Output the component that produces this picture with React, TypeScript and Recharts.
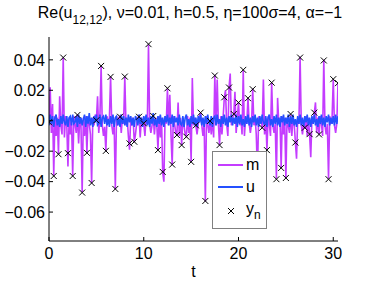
import { ComposedChart, Line, Scatter, XAxis, YAxis, Legend } from 'recharts';

const FONT = '"Liberation Sans", Arial, Helvetica, sans-serif';
const M_COLOR = '#c43cff';
const U_COLOR = '#2450ff';

// sample spacing of the filter output (m) and truth (u), observation spacing h
const STEP = 0.125;
const OBS_STEP = 0.5;

const xTicks = [0, 10, 20, 30];
const yTicks = [-0.06, -0.04, -0.02, 0, 0.02, 0.04];

// observations y_n, one every 0.5 from t=0 to t=30.5
const yN = [
  -0.001, -0.0363, -0.022, 0.0415, -0.0213, -0.0363, 0.0038, -0.0472, -0.0211, -0.0409,
  0.0003, 0.036, -0.0198, 0.0288, -0.0448, 0.0026, 0.029, -0.0149, -0.0138, 0.0026,
  -0.0017, 0.0503, 0.0031, -0.0193, -0.0336, 0.0213, -0.0288, -0.0094, -0.016, -0.0105,
  -0.027, -0.003, 0.0053, -0.0527, -0.0002, 0.0297, -0.016, 0.0154, 0.0218, 0.0044,
  0.0119, 0.0334, 0.0148, 0.0207, -0.035, -0.0046, -0.0193, 0.025, -0.0384, -0.031,
  -0.0376, 0.0044, -0.0143, 0.0415, -0.0046, -0.0088, 0.0053, -0.009, 0.0396, -0.0384,
  0.0273, 0.0247,
];

// m (x1e-3), 4 samples per observation interval
const mMilli = [
  -1, 22, -8, 11,   -36, 3, -10, 2,   -22, 16, -3, -9,   41.5, -11, 3, -2,
  -30, 2, -9, 2,    -36, 3, -2, -8,   4, -15, 2, -3,     -47, 2, -10, 3,
  -21, 3, -2, -9,   -41, 2, -3, 4,    0, 16, -8, 3,      36, -3, -10, -4,
  -20, 3, -2, 2,    29, -3, -9, -2,   -45, 3, -3, 2,     3, -8, 2, -2,
  29, -3, 2, -10,   -19, 2, -3, 2,    -14, -9, -2, 2,    3, -11, 2, -3,
  -2, -10, 3, -2,   50, -3, -8, -3,   3, -9, 2, -2,      -19, 3, -11, 2,
  -34, -40, 3, -2,  21, -3, 17, -9,   -29, 3, -2, -8,    -9, 12, -10, 2,
  -16, 2, -3, -9,   -10, 3, -8, 2,    -27, 28, -3, 2,    -3, -9, -2, 3,
  5, -3, -10, -2,   -53, 3, -2, -8,   0, -9, 2, -11,     30, -3, 27, -2,
  -16, 3, -9, 2,    15, 20, -2, -10,  22, 31, -3, 2,     4, 19, -8, 2,
  12, -3, 2, -9,    33, -10, 2, -2,   15, -2, -8, -2,    21, -3, 2, -9,
  -35, 3, -2, 2,    -5, 27, -9, 2,    -19, 3, -2, -10,   25, -3, -8, -2,
  -38, 15, -2, 2,   -31, 3, -9, 2,    -38, 2, -3, -8,    4, -10, 2, -2,
  -14, -25, 2, -2,  42, -3, -9, -2,   -5, 3, -10, 2,     -9, -24, 2, -2,
  5, 12, -8, 2,     -9, 3, -2, -10,   40, -3, -9, -2,    -38, 3, -2, 2,
  27, -3, -8, -2,   25,
];

// u (x1e-3)
const uMilli = [
  -3, 4, -2, 3, -4, 2, 4, -3, 1, -4, 3, -2, 4, -1, -3, 3,
  -4, 2, 3, -3, 4, -2, -1, 3, -4, 4, -2, 2, -3, 1, 4, -4,
  3, -2, 5, -3, 2, -4, 3, -1, 4, -3, -2, 4, -4, 2, 3, -2,
  4, -3, 1, -4, 3, -2, 4, -4, 2, 3, -3, 1, -4, 4, -2, 3,
  -3, 2, -4, 4, -1, 3, -3, 2, -4, 3, 1, -3, 4, -2, 2, -4,
  3, -1, 4, -3, 2, -4, 3, -2, 5, -3, 1, -4, 3, -2, 4, -3,
  2, -4, 3, -1, 4, -3, 2, -2, 4, -4, 3, -1, 2, -3, 4, -2,
  -3, 3, -4, 2, 4, -3, 1, -4, 3, -2, 4, -3, 2, -4, 3, -1,
  4, -3, 2, -4, 3, -2, 4, -1, -3, 3, -4, 2, 3, -3, 4, -2,
  1, -4, 3, -2, 4, -3, 2, -4, 3, -1, 4, -3, 2, -2, 4, -4,
  3, -2, 4, -3, 1, -4, 3, -2, 4, -3, 2, -4, 3, -1, 4, -3,
  2, -4, 3, -2, 4, -1, -3, 3, -4, 2, 4, -3, 1, -4, 3, -2,
  4, -3, 2, -4, 3, -1, 4, -3, 2, -2, 4, -4, 3, -2, 4, -3,
  1, -4, 3, -2, 4, -3, 2, -4, 3, -1, 4, -3, 2, -4, 3, -2,
  4, -3, 1, -4, 3, -2, 4, -3, 2, -4, 3, -1, 4, -3, 2, -2,
  3, -3, 4, -2, 3,
];

const mRows = mMilli.map((v, i) => ({ t: i * STEP, m: v / 1000 }));
const uRows = uMilli.map((v, i) => ({ t: i * STEP, u: v / 1000 }));
const obsRows = yN.map((v, i) => ({ t: i * OBS_STEP, y: v }));

const fmtY = (v: number) => (v === 0 ? '0' : (v < 0 ? '\u2212' : '') + Math.abs(v).toFixed(2));

const XMark = (props: any) => {
  const { cx, cy } = props;
  if (cx == null || cy == null) return null;
  const s = 3;
  return (
    <path
      d={`M${cx - s},${cy - s}L${cx + s},${cy + s}M${cx - s},${cy + s}L${cx + s},${cy - s}`}
      stroke="#000"
      strokeWidth={1}
      fill="none"
    />
  );
};

const renderLegend = () => (
  <div
    style={{
      width: 53,
      height: 74,
      border: '1px solid #808080',
      background: '#fff',
      fontFamily: FONT,
      fontSize: 16,
      color: '#000',
      paddingTop: 2,
      boxSizing: 'content-box',
    }}
  >
    <div style={{ height: 22, display: 'flex', alignItems: 'center' }}>
      <svg width={33} height={22}>
        <line x1={5} x2={30} y1={11} y2={11} stroke={M_COLOR} strokeWidth={2} />
      </svg>
      <span>m</span>
    </div>
    <div style={{ height: 22, display: 'flex', alignItems: 'center' }}>
      <svg width={33} height={22}>
        <line x1={5} x2={30} y1={11} y2={11} stroke={U_COLOR} strokeWidth={2} />
      </svg>
      <span>u</span>
    </div>
    <div style={{ height: 22, display: 'flex', alignItems: 'center' }}>
      <svg width={33} height={22}>
        <path d="M15,10L21,16M15,16L21,10" stroke="#000" strokeWidth={1} fill="none" />
      </svg>
      <span>
        y<span style={{ fontSize: 12, position: 'relative', top: 5 }}>n</span>
      </span>
    </div>
  </div>
);

export default function App() {
  return (
    <div style={{ position: 'absolute', left: 0, top: 0, width: 374, height: 281, background: '#fff' }}>
      <div
        style={{
          position: 'absolute',
          left: 6,
          top: 5,
          width: 368,
          textAlign: 'center',
          fontFamily: FONT,
          fontSize: 16,
          lineHeight: '16px',
          whiteSpace: 'nowrap',
          color: '#000',
        }}
      >
        Re(u<span style={{ fontSize: 12, position: 'relative', top: 6 }}>12,12</span>), ν=0.01, h=0.5, η=100σ=4, α=−1
      </div>
      <ComposedChart
        width={374}
        height={281}
        margin={{ top: 37, right: 36, bottom: 0, left: 0 }}
        style={{ fontFamily: FONT }}
      >
        <XAxis
          xAxisId="b"
          dataKey="t"
          type="number"
          domain={[0, 30.5]}
          ticks={xTicks}
          allowDataOverflow
          height={40}
          tickSize={-4}
          tickMargin={11}
          stroke="#000"
          tick={{ fill: '#000', fontSize: 16 }}
          label={{ value: 't', position: 'insideBottom', offset: 4.5, fill: '#000', fontSize: 16 }}
        />
        <XAxis
          xAxisId="top"
          orientation="top"
          type="number"
          domain={[0, 30.5]}
          ticks={xTicks}
          allowDataOverflow
          height={0}
          tickSize={-4}
          tick={false}
          stroke="#000"
        />
        <YAxis
          yAxisId="l"
          type="number"
          domain={[-0.079, 0.055]}
          ticks={yTicks}
          allowDataOverflow
          width={49}
          tickSize={-4}
          tickMargin={8}
          tickFormatter={fmtY}
          stroke="#000"
          tick={{ fill: '#000', fontSize: 16 }}
        />
        <YAxis
          yAxisId="r"
          orientation="right"
          type="number"
          domain={[-0.079, 0.055]}
          ticks={yTicks}
          allowDataOverflow
          width={0}
          tickSize={-4}
          tick={false}
          stroke="#000"
        />
        <Line
          xAxisId="b"
          yAxisId="l"
          data={mRows}
          dataKey="m"
          name="m"
          type="linear"
          stroke={M_COLOR}
          strokeWidth={1.6}
          dot={false}
          isAnimationActive={false}
        />
        <Line
          xAxisId="b"
          yAxisId="l"
          data={uRows}
          dataKey="u"
          name="u"
          type="linear"
          stroke={U_COLOR}
          strokeWidth={1.6}
          dot={false}
          isAnimationActive={false}
        />
        <Scatter
          xAxisId="b"
          yAxisId="l"
          data={obsRows}
          dataKey="y"
          name="y_n"
          shape={XMark}
          isAnimationActive={false}
        />
        <Legend
          layout="vertical"
          align="center"
          verticalAlign="middle"
          content={renderLegend}
          wrapperStyle={{ left: 212, top: 151 }}
        />
      </ComposedChart>
    </div>
  );
}
